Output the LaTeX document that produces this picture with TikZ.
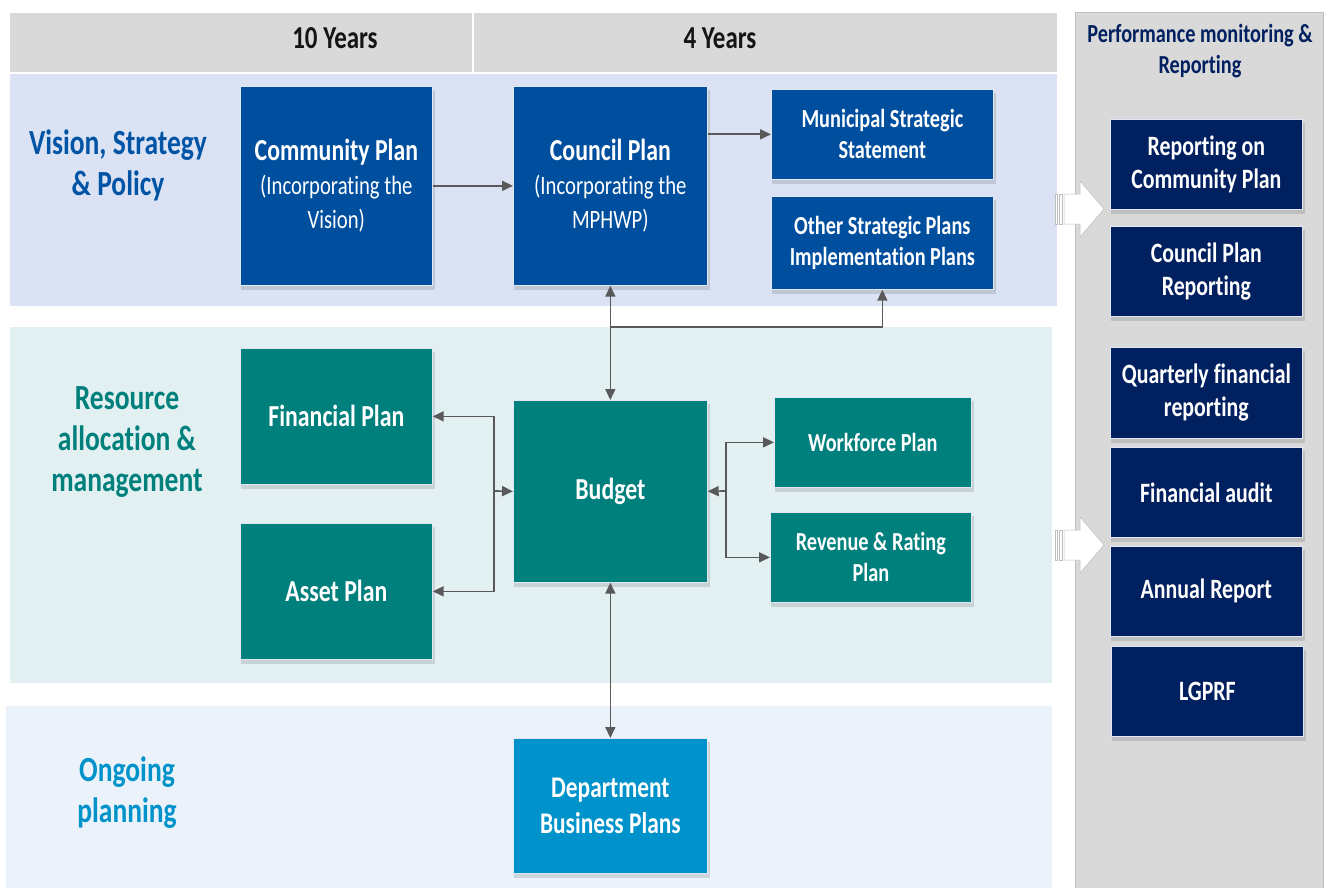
\documentclass[tikz,border=0pt]{standalone}
\usepackage{fontspec}
\setmainfont{Carlito}[FakeStretch=0.78, Ligatures=NoCommon]
\usetikzlibrary{arrows.meta}
\definecolor{hdrgray}{RGB}{217,217,217}
\definecolor{panelgray}{RGB}{217,217,217}
\definecolor{panelline}{RGB}{190,190,190}
\definecolor{bandA}{RGB}{218,226,243}
\definecolor{bandB}{RGB}{226,240,241}
\definecolor{bandC}{RGB}{235,242,250}
\definecolor{dblue}{RGB}{0,79,159}
\definecolor{teal}{RGB}{0,128,125}
\definecolor{lblue}{RGB}{0,146,202}
\definecolor{navy}{RGB}{0,32,96}
\definecolor{visblue}{RGB}{0,84,166}
\definecolor{arrgray}{RGB}{89,89,89}
\definecolor{hdrtext}{RGB}{20,20,20}
\definecolor{boxedge}{RGB}{225,232,245}
\pgfdeclarelayer{bands}
\pgfdeclarelayer{shade}
\pgfsetlayers{bands,shade,main}
\tikzset{
  box/.style={anchor=north west, inner sep=0pt, align=center, text=white,
    draw=boxedge, line width=0.7pt},
  ttl/.style={font=\bfseries\fontsize{30.5}{34}\selectfont},
  mid/.style={font=\bfseries\fontsize{26}{31}\selectfont},
  rpt/.style={font=\bfseries\fontsize{28}{33}\selectfont},
  side/.style={font=\bfseries\fontsize{35.3}{41}\selectfont, align=center, inner sep=0pt},
  hdr/.style={font=\bfseries\fontsize{32}{36}\selectfont, text=hdrtext},
  arr/.style={draw=arrgray, line width=1.7pt, -{Triangle[length=11pt,width=10pt]}},
  darr/.style={draw=arrgray, line width=1.7pt, {Triangle[length=11pt,width=10pt]}-{Triangle[length=11pt,width=10pt]}},
  blockarrow/.style={fill=white, draw=panelline, line width=0.5pt},
  shadowfill/.style={fill=black, fill opacity=0.12}
}
\newcommand{\subtxt}{\mdseries\fontsize{26.5}{33}\selectfont}
\begin{document}
\begin{tikzpicture}[x=1pt,y=-1pt]
\useasboundingbox (0,0) rectangle (1328,888);
\begin{pgfonlayer}{bands}
% header
\fill[hdrgray] (10,13) rectangle (1057,72);
\draw[white, line width=2pt] (473,13) -- (473,72);
% right panel
\filldraw[fill=panelgray, draw=panelline, line width=0.8pt] (1075,12) rectangle (1323,889);
% bands
\fill[bandA] (10,74) rectangle (1057,306);
\fill[bandB] (10,327) rectangle (1052,683);
\fill[bandC] (6,706) rectangle (1052,888);
\end{pgfonlayer}
\node[hdr] (h10) at (335,38) {10 Years};
\node[hdr] (h4) at (720,38) {4 Years};
\node[font=\bfseries\fontsize{26}{31}\selectfont, text=navy, align=center] (ptitle) at (1200,51) {Performance monitoring \&\\Reporting};
% side labels
\node[side, text=visblue] (lv) at (118,165) {Vision, Strategy\\\& Policy};
\node[side, text=teal] (lr) at (127,442) {Resource\\allocation \&\\management};
\node[side, text=lblue] (lo) at (127,793) {Ongoing\\planning};
% row 1 boxes
\node[box, fill=dblue, ttl, minimum width=192pt, minimum height=199pt] (cp) at (240,86)
  {Community Plan\\\subtxt (Incorporating the\\\subtxt Vision)};
\node[box, fill=dblue, ttl, minimum width=194pt, minimum height=199pt] (cl) at (513,86)
  {Council Plan\\\subtxt (Incorporating the\\\subtxt MPHWP)};
\node[box, fill=dblue, mid, minimum width=222pt, minimum height=90pt] (mss) at (771,89)
  {Municipal Strategic\\Statement};
\node[box, fill=dblue, mid, minimum width=222pt, minimum height=93pt] (osp) at (771,196)
  {Other Strategic Plans\\Implementation Plans};
% row 2 boxes
\node[box, fill=teal, ttl, minimum width=192pt, minimum height=136pt] (fin) at (240,348) {Financial Plan};
\node[box, fill=teal, ttl, minimum width=192pt, minimum height=136pt] (ast) at (240,523) {Asset Plan};
\node[box, fill=teal, ttl, minimum width=194pt, minimum height=182pt] (bud) at (513,400) {Budget};
\node[box, fill=teal, mid, minimum width=197pt, minimum height=90pt] (wf) at (774,397) {Workforce Plan};
\node[box, fill=teal, mid, minimum width=201pt, minimum height=90pt] (rev) at (770,512) {Revenue \& Rating\\Plan};
% row 3
\node[box, fill=lblue, font=\bfseries\fontsize{30}{36}\selectfont, minimum width=194pt, minimum height=135pt] (dep) at (513,738) {Department\\Business Plans};
% right panel boxes
\node[box, fill=navy, rpt, minimum width=192pt, minimum height=90pt] (r1) at (1110,119) {Reporting on\\Community Plan};
\node[box, fill=navy, rpt, minimum width=192pt, minimum height=90pt] (r2) at (1110,226) {Council Plan\\Reporting};
\node[box, fill=navy, rpt, minimum width=192pt, minimum height=91pt] (r3) at (1110,347) {Quarterly financial\\reporting};
\node[box, fill=navy, rpt, minimum width=192pt, minimum height=90pt] (r4) at (1110,447) {Financial audit};
\node[box, fill=navy, rpt, minimum width=192pt, minimum height=90pt] (r5) at (1110,546) {Annual Report};
\node[box, fill=navy, rpt, minimum width=192pt, minimum height=90pt] (r6) at (1111,646) {LGPRF};
% soft shadows under the boxes
\begin{pgfonlayer}{shade}
\foreach \n in {cp,cl,mss,osp,fin,ast,bud,wf,rev,dep,r1,r2,r3,r4,r5,r6}{
  \fill[shadowfill] ([shift={(1,4)}]\n.north west) rectangle ([shift={(2,4)}]\n.south east);
}
\end{pgfonlayer}
% block arrows
\foreach \cy in {209,545}{
  \filldraw[blockarrow] (1055,\cy-15) rectangle (1057,\cy+15);
  \filldraw[blockarrow] (1059,\cy-15) rectangle (1062,\cy+15);
  \filldraw[blockarrow] (1064,\cy-15) -- (1080,\cy-15) -- (1080,\cy-28) -- (1104,\cy) -- (1080,\cy+28) -- (1080,\cy+15) -- (1064,\cy+15) -- cycle;
}
% connectors
\draw[arr] (cp) -- (cl);
\draw[arr] (mss.west -| cl.east) -- (mss.west);
\draw[darr] (cl.south) -- (bud.north);
\coordinate (jt) at (610,327);
\draw[arr] (jt) -| (osp.south);
\coordinate (jl) at (494,491);
\draw[arr] (jl) -- (bud.west);
\draw[arr] (jl) |- (fin.east);
\draw[arr] (jl) |- (ast.east);
\coordinate (jr) at (726,491);
\draw[arr] (jr) -- (bud.east);
\draw[arr] (jr) |- (wf.west);
\draw[arr] (jr) |- (rev.west);
\draw[darr] (bud.south) -- (dep.north);
\end{tikzpicture}
\end{document}
